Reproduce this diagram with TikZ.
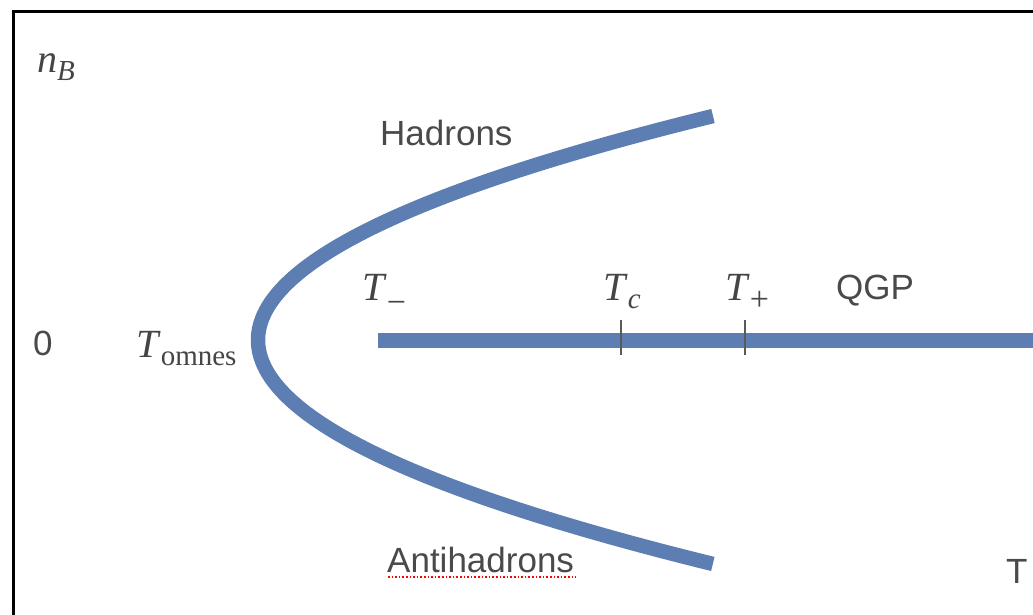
\documentclass[tikz,border=0pt]{standalone}
\usepackage{fontspec}
\setmainfont{Liberation Serif}
\newfontfamily\sansfam{Liberation Sans}
\definecolor{curveblue}{HTML}{5D7EB3}
\definecolor{txtgray}{HTML}{4A4A4A}
\definecolor{mathgray}{HTML}{454545}
\definecolor{tickgray}{HTML}{5A5A5A}
\newcommand\mysub[2]{\textit{#1}\raisebox{-8pt}{\fontsize{29}{29}\selectfont #2}}
\begin{document}
\begin{tikzpicture}[x=1pt,y=-1pt,
  lbl/.style={inner sep=0pt, anchor=base west, text=txtgray, font=\sansfam\fontsize{35}{35}\selectfont},
  mlbl/.style={inner sep=0pt, anchor=base west, text=mathgray, font=\fontsize{40}{40}\selectfont},
  bluecurve/.style={draw=curveblue, line width=14.5pt},
  tickmark/.style={draw=tickgray, line width=1.8pt},
  frameline/.style={draw=black, line width=3pt}]
\useasboundingbox (0,0) rectangle (1033,615);
% frame
\draw[frameline] (1035,11.5) -| (13.5,617);
% parabola
\draw[bluecurve] plot[domain=-2.24:2.24, samples=120, smooth] ({258+90.68*\x*\x},{340+100*\x});
% axis line
\coordinate (lstart) at (378,340);
\coordinate (lend) at (1040,340);
\draw[bluecurve, line width=15pt] (lstart) -- (lend);
% ticks
\coordinate (tc) at (621,340);
\coordinate (tp) at (745,340);
\draw[tickmark] ([yshift=-15]tc) -- ([yshift=20]tc);
\draw[tickmark] ([yshift=-15]tp) -- ([yshift=20]tp);
% labels
\node[mlbl] (nb) at (37,73) {\mysub{n}{\textit{B}}};
\node[lbl] (had) at (380,146) {Hadrons};
\node[lbl] (anti) at (387,572) {Antihadrons};
\draw[red, dotted, line width=1.6pt] (388,577) -- (576,577);
\node[lbl] (qgp) at (836,299) {QGP};
\node[lbl] (zero) at (33,355) {0};
\node[lbl] (tt) at (1006,583) {T};
\node[mlbl] (tom) at (136,357) {\mysub{T}{omnes}};
\node[mlbl] (tm) at (362,300) {\textit{T}\raisebox{-13pt}{\fontsize{34}{34}\selectfont −}};
\node[mlbl] (tcl) at (603,300) {\mysub{T}{\textit{c}}};
\node[mlbl] (tpl) at (725,300) {\textit{T}\raisebox{-10pt}{\fontsize{34}{34}\selectfont +}};
\end{tikzpicture}
\end{document}
